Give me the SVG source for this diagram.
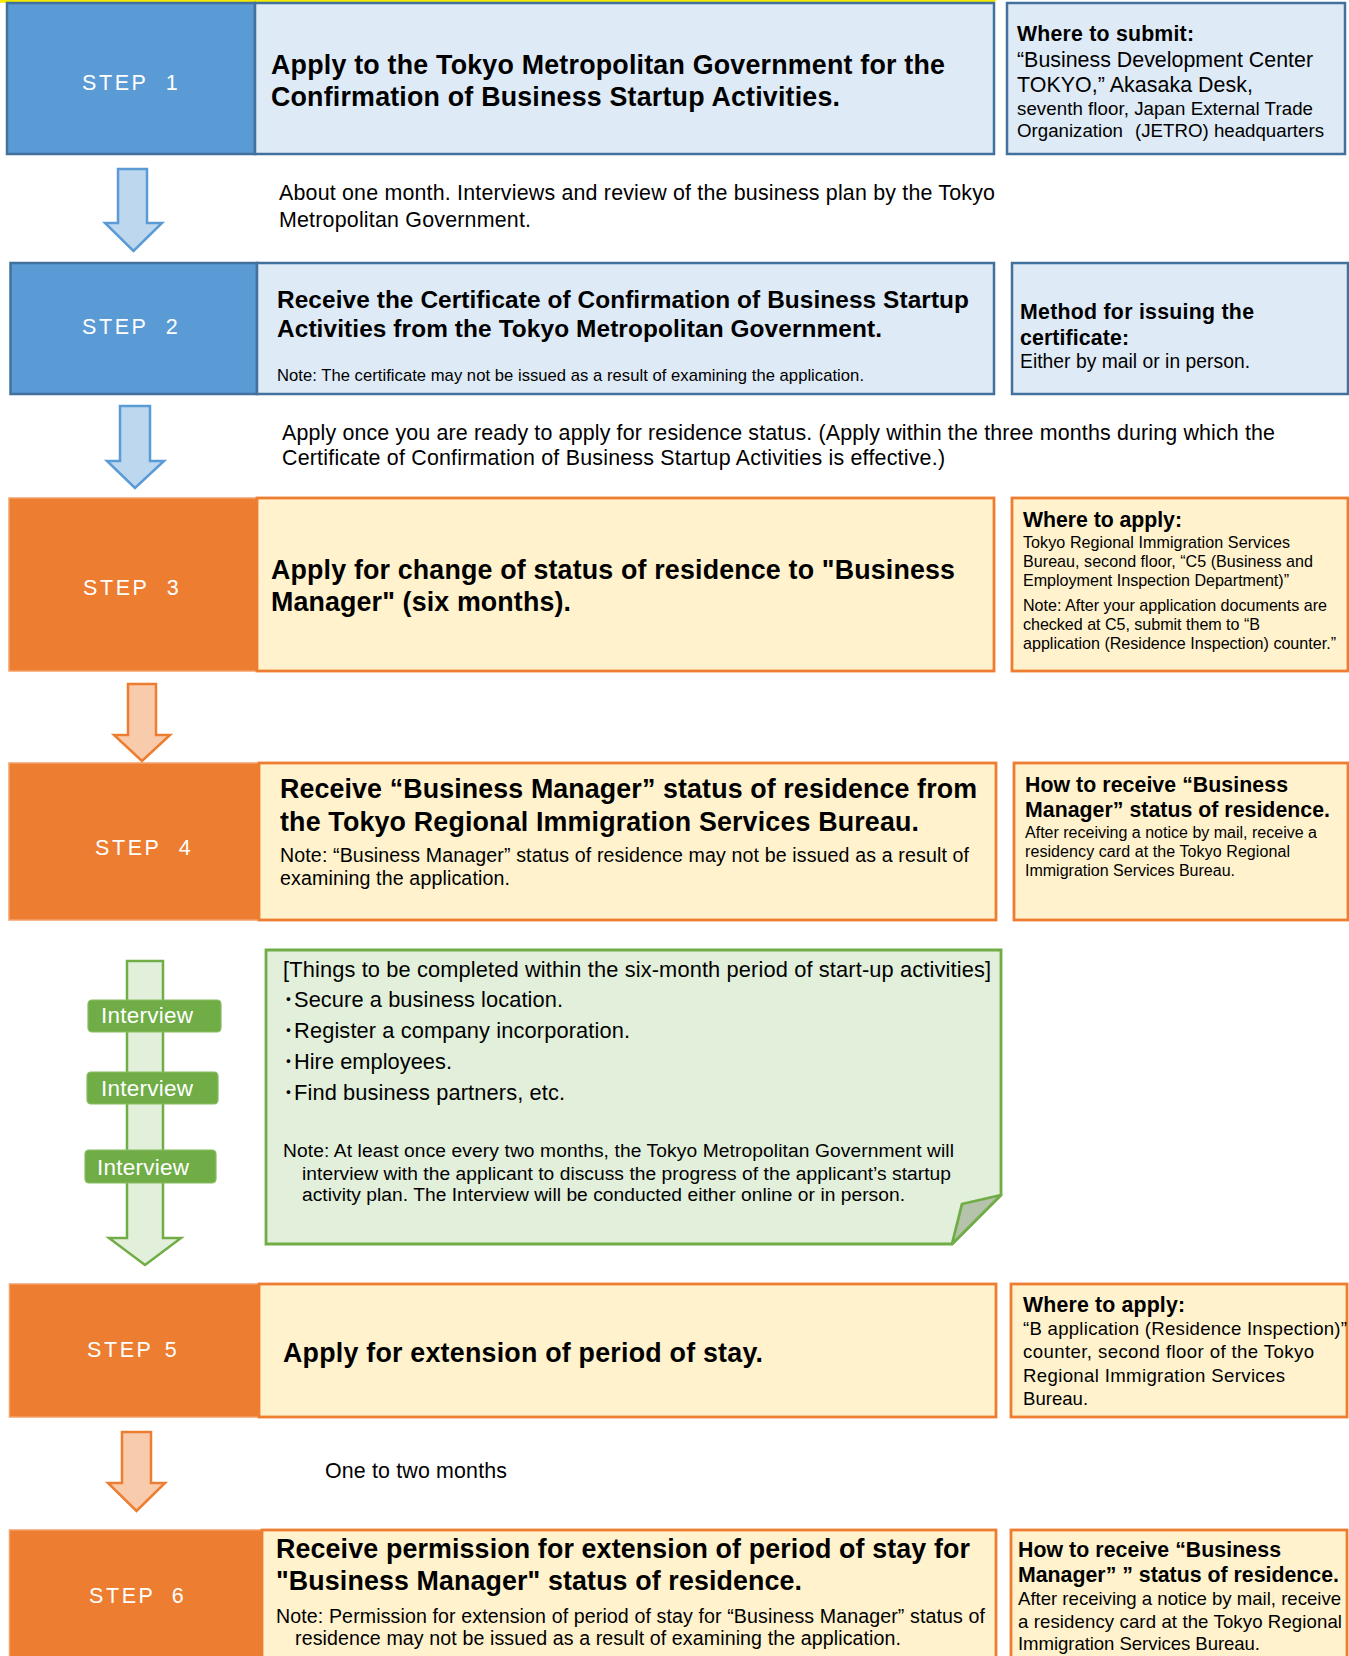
<svg xmlns="http://www.w3.org/2000/svg" width="1349" height="1656" viewBox="0 0 1349 1656">
<style>
text{font-family:"Liberation Sans",Arial,"Noto Sans CJK JP",sans-serif;fill:#000}
.st{fill:#fff;font-size:21.5px;letter-spacing:2.6px;word-spacing:9px}
.h{font-weight:bold;font-size:26.8px}
.h2{font-weight:bold;font-size:24.4px}
.b{font-size:21.4px}
.t{font-weight:bold;font-size:21.3px}
.iv{fill:#fff;font-size:22.5px}
.bs{fill:#5B9BD5;stroke:#41719C;stroke-width:2.5}
.bm{fill:#DEEAF6;stroke:#41719C;stroke-width:2.5}
.os{fill:#ED7D31;stroke:#F4A06A;stroke-width:1.5}
.om{fill:#FFF2CC;stroke:#ED7D31;stroke-width:2.8}
.ab{fill:#BDD7EE;stroke:#5B9BD5;stroke-width:2.5;stroke-linejoin:miter}
.ao{fill:#F8CBAD;stroke:#ED7D31;stroke-width:2.5}
.ag{fill:#E2EFDA;stroke:#70AD47;stroke-width:2.5}
.ivb{fill:#70AD47;stroke:#86BD63;stroke-width:1.2}
</style>
<rect width="1349" height="1656" fill="#fff"/>
<path d="M0,1.2 L993,1.2 L999,-4" fill="none" stroke="#F5EA00" stroke-width="3"/>

<g id="connectors">
<polygon class="ab" points="118,169 147,169 147,223 162,223 133.5,251 105,223 118,223"/>
<polygon class="ab" points="120,406 150,406 150,461 164,461 135,488 107,461 120,461"/>
<polygon class="ao" points="128,684 156,684 156,735 170,735 142,761 114,735 128,735"/>
<polygon class="ag" points="127,961 163,961 163,1238 181,1238 145,1265 109,1238 127,1238"/>
<polygon class="ao" points="122,1432 151,1432 151,1483 165,1483 136.5,1511 108,1483 122,1483"/>
</g>

<g id="step1">
<rect class="bs" x="7" y="3" width="248" height="151"/>
<rect class="bm" x="255" y="3" width="739" height="151"/>
<text class="st" x="82" y="90">STEP 1</text>
<text class="h" x="271" y="74" textLength="674" lengthAdjust="spacing">Apply to the Tokyo Metropolitan Government for the</text>
<text class="h" x="271" y="106" textLength="569" lengthAdjust="spacing">Confirmation of Business Startup Activities.</text>
</g>
<g id="info1">
<rect class="bm" x="1007" y="3" width="338" height="151"/>
<text class="t" x="1017" y="41" textLength="177" lengthAdjust="spacing">Where to submit:</text>
<text class="b" x="1017" y="67" textLength="296" lengthAdjust="spacing">“Business Development Center</text>
<text class="b" x="1017" y="92" textLength="236" lengthAdjust="spacing">TOKYO,” Akasaka Desk,</text>
<text x="1017" y="115" font-size="18.7" textLength="296" lengthAdjust="spacing">seventh floor, Japan External Trade</text>
<text x="1017" y="137" font-size="18.7">Organization<tspan x="1135">(JETRO) headquarters</tspan></text>
</g>
<g id="note1">
<text class="b" x="279" y="200" textLength="716" lengthAdjust="spacing">About one month. Interviews and review of the business plan by the Tokyo</text>
<text class="b" x="279" y="227" textLength="252" lengthAdjust="spacing">Metropolitan Government.</text>
</g>

<g id="step2">
<rect class="bs" x="10.5" y="263" width="246.5" height="131"/>
<rect class="bm" x="257" y="263" width="737" height="131"/>
<text class="st" x="82" y="334">STEP 2</text>
<text class="h2" x="277" y="308" textLength="692" lengthAdjust="spacing">Receive the Certificate of Confirmation of Business Startup</text>
<text class="h2" x="277" y="337" textLength="605" lengthAdjust="spacing">Activities from the Tokyo Metropolitan Government.</text>
<text x="277" y="381" font-size="16.6" textLength="587" lengthAdjust="spacing">Note: The certificate may not be issued as a result of examining the application.</text>
</g>
<g id="info2">
<rect class="bm" x="1012" y="263" width="336" height="131"/>
<text class="t" x="1020" y="319" textLength="234" lengthAdjust="spacing">Method for issuing the</text>
<text class="t" x="1020" y="345" textLength="109" lengthAdjust="spacing">certificate:</text>
<text x="1020" y="368" font-size="19.3" textLength="230" lengthAdjust="spacing">Either by mail or in person.</text>
</g>
<g id="note2">
<text class="b" x="282" y="440" textLength="993" lengthAdjust="spacing">Apply once you are ready to apply for residence status. (Apply within the three months during which the</text>
<text class="b" x="282" y="465" textLength="663" lengthAdjust="spacing">Certificate of Confirmation of Business Startup Activities is effective.)</text>
</g>

<g id="step3">
<rect class="os" x="9" y="498" width="248" height="173"/>
<rect class="om" x="257" y="498" width="737" height="173"/>
<text class="st" x="83" y="595">STEP 3</text>
<text class="h" x="271" y="579" textLength="684" lengthAdjust="spacing">Apply for change of status of residence to "Business</text>
<text class="h" x="271" y="611" textLength="300" lengthAdjust="spacing">Manager" (six months).</text>
</g>
<g id="info3">
<rect class="om" x="1012" y="498" width="336" height="173"/>
<text class="t" x="1023" y="527" textLength="159" lengthAdjust="spacing">Where to apply:</text>
<text x="1023" y="548" font-size="16.1" textLength="267" lengthAdjust="spacing">Tokyo Regional Immigration Services</text>
<text x="1023" y="567" font-size="16.1" textLength="290" lengthAdjust="spacing">Bureau, second floor, “C5 (Business and</text>
<text x="1023" y="586" font-size="16.1" textLength="266" lengthAdjust="spacing">Employment Inspection Department)”</text>
<text x="1023" y="611" font-size="16.1" textLength="304" lengthAdjust="spacing">Note: After your application documents are</text>
<text x="1023" y="630" font-size="16.1" textLength="237" lengthAdjust="spacing">checked at C5, submit them to “B</text>
<text x="1023" y="649" font-size="16.1" textLength="313" lengthAdjust="spacing">application (Residence Inspection) counter.”</text>
</g>

<g id="step4">
<rect class="os" x="9" y="763" width="250" height="157"/>
<rect class="om" x="259" y="763" width="737" height="157"/>
<text class="st" x="95" y="855">STEP 4</text>
<text class="h" x="280" y="798" textLength="697" lengthAdjust="spacing">Receive “Business Manager” status of residence from</text>
<text class="h" x="280" y="831" textLength="639" lengthAdjust="spacing">the Tokyo Regional Immigration Services Bureau.</text>
<text x="280" y="862" font-size="19.6" textLength="689" lengthAdjust="spacing">Note: “Business Manager” status of residence may not be issued as a result of</text>
<text x="280" y="885" font-size="19.6" textLength="230" lengthAdjust="spacing">examining the application.</text>
</g>
<g id="info4">
<rect class="om" x="1014" y="763" width="334" height="157"/>
<text class="t" x="1025" y="792" textLength="263" lengthAdjust="spacing">How to receive “Business</text>
<text class="t" x="1025" y="817" textLength="305" lengthAdjust="spacing">Manager” status of residence.</text>
<text x="1025" y="838" font-size="16" textLength="292" lengthAdjust="spacing">After receiving a notice by mail, receive a</text>
<text x="1025" y="857" font-size="16" textLength="265" lengthAdjust="spacing">residency card at the Tokyo Regional</text>
<text x="1025" y="876" font-size="16" textLength="210" lengthAdjust="spacing">Immigration Services Bureau.</text>
</g>

<g id="interview1">
<rect class="ivb" x="88" y="1000" width="133" height="32" rx="4"/>
<text class="iv" x="101" y="1023" textLength="92" lengthAdjust="spacing">Interview</text>
</g>
<g id="interview2">
<rect class="ivb" x="87" y="1072" width="131" height="32" rx="4"/>
<text class="iv" x="101" y="1096" textLength="92" lengthAdjust="spacing">Interview</text>
</g>
<g id="interview3">
<rect class="ivb" x="85" y="1150" width="131" height="33" rx="4"/>
<text class="iv" x="97" y="1175" textLength="92" lengthAdjust="spacing">Interview</text>
</g>
<g id="todo">
<polygon points="266,950 1001,950 1001,1195 952,1244 266,1244" fill="#E2EFDA" stroke="#70AD47" stroke-width="2.8"/>
<polygon points="1001,1195 962,1204 952,1244" fill="#B6C3AB" stroke="#70AD47" stroke-width="2.8" stroke-linejoin="round"/>
<text x="283" y="977" font-size="21.8" textLength="708" lengthAdjust="spacing">[Things to be completed within the six-month period of start-up activities]</text>
<text x="283" y="1007" font-size="21.8" textLength="280" lengthAdjust="spacing">･Secure a business location.</text>
<text x="283" y="1038" font-size="21.8" textLength="347" lengthAdjust="spacing">･Register a company incorporation.</text>
<text x="283" y="1069" font-size="21.8" textLength="169" lengthAdjust="spacing">･Hire employees.</text>
<text x="283" y="1100" font-size="21.8" textLength="282" lengthAdjust="spacing">･Find business partners, etc.</text>
<text x="283" y="1157" font-size="19.2" textLength="671" lengthAdjust="spacing">Note: At least once every two months, the Tokyo Metropolitan Government will</text>
<text x="302" y="1180" font-size="19.2" textLength="649" lengthAdjust="spacing">interview with the applicant to discuss the progress of the applicant’s startup</text>
<text x="302" y="1201" font-size="19.2" textLength="603" lengthAdjust="spacing">activity plan. The Interview will be conducted either online or in person.</text>
</g>

<g id="step5">
<rect class="os" x="9.5" y="1284" width="249.5" height="133"/>
<rect class="om" x="259" y="1284" width="737" height="133"/>
<text class="st" x="87" y="1357" style="word-spacing:3px">STEP 5</text>
<text class="h" x="283" y="1362" textLength="480" lengthAdjust="spacing">Apply for extension of period of stay.</text>
</g>
<g id="info5">
<rect class="om" x="1011" y="1284" width="336" height="133"/>
<text class="t" x="1023" y="1312" textLength="162" lengthAdjust="spacing">Where to apply:</text>
<text x="1023" y="1335" font-size="18.6" textLength="324" lengthAdjust="spacing">“B application (Residence Inspection)”</text>
<text x="1023" y="1358" font-size="18.6" textLength="291" lengthAdjust="spacing">counter, second floor of the Tokyo</text>
<text x="1023" y="1382" font-size="18.6" textLength="262" lengthAdjust="spacing">Regional Immigration Services</text>
<text x="1023" y="1405" font-size="18.6">Bureau.</text>
</g>
<g id="note5">
<text class="b" x="325" y="1478" textLength="182" lengthAdjust="spacing">One to two months</text>
</g>

<g id="step6">
<rect class="os" x="9.5" y="1530" width="252.5" height="130"/>
<rect class="om" x="262" y="1530" width="734" height="130"/>
<text class="st" x="89" y="1603" style="word-spacing:8px">STEP 6</text>
<text class="h" x="276" y="1558" textLength="694" lengthAdjust="spacing">Receive permission for extension of period of stay for</text>
<text class="h" x="276" y="1590" textLength="526" lengthAdjust="spacing">"Business Manager" status of residence.</text>
<text x="276" y="1623" font-size="19.6" textLength="709" lengthAdjust="spacing">Note: Permission for extension of period of stay for “Business Manager” status of</text>
<text x="295" y="1645" font-size="19.6" textLength="606" lengthAdjust="spacing">residence may not be issued as a result of examining the application.</text>
</g>
<g id="info6">
<rect class="om" x="1011" y="1530" width="336" height="130"/>
<text class="t" x="1018" y="1557" textLength="263" lengthAdjust="spacing">How to receive “Business</text>
<text class="t" x="1018" y="1582" textLength="321" lengthAdjust="spacing">Manager” ” status of residence.</text>
<text x="1018" y="1605" font-size="18.6" textLength="323" lengthAdjust="spacing">After receiving a notice by mail, receive</text>
<text x="1018" y="1628" font-size="18.6" textLength="324" lengthAdjust="spacing">a residency card at the Tokyo Regional</text>
<text x="1018" y="1650" font-size="18.6" textLength="242" lengthAdjust="spacing">Immigration Services Bureau.</text>
</g>
</svg>
